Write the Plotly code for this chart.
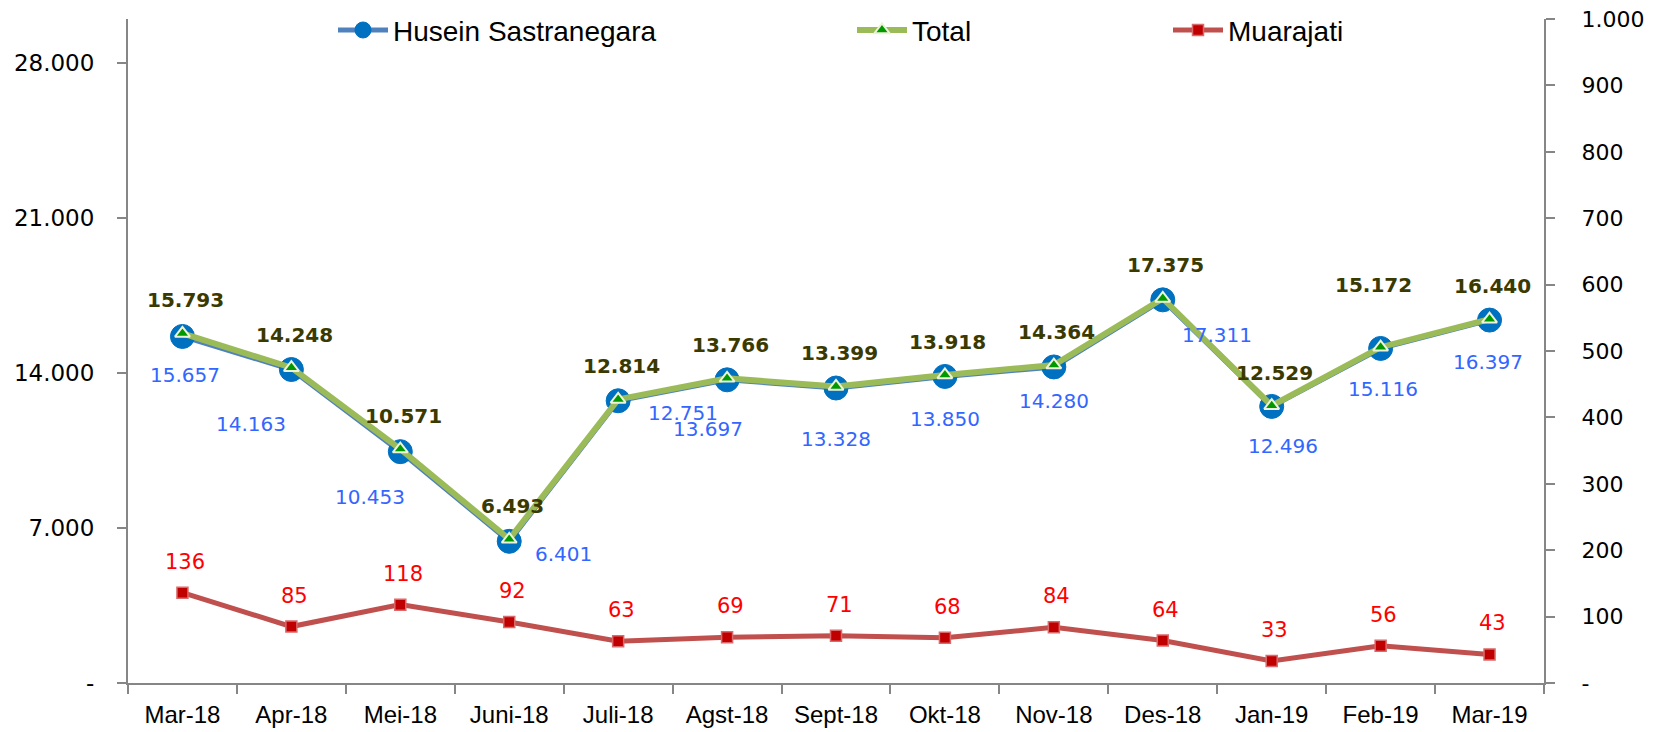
import plotly.graph_objects as go

# ---- data ----
categories = ["Mar-18", "Apr-18", "Mei-18", "Juni-18", "Juli-18", "Agst-18", "Sept-18",
              "Okt-18", "Nov-18", "Des-18", "Jan-19", "Feb-19", "Mar-19"]
husein = [15657, 14163, 10453, 6401, 12751, 13697, 13328, 13850, 14280, 17311, 12496, 15116, 16397]
total = [15793, 14248, 10571, 6493, 12814, 13766, 13399, 13918, 14364, 17375, 12529, 15172, 16440]
muarajati = [136, 85, 118, 92, 63, 69, 71, 68, 84, 64, 33, 56, 43]

left_ticks = [0, 7000, 14000, 21000, 28000]
right_ticks = [0, 100, 200, 300, 400, 500, 600, 700, 800, 900, 1000]

# ---- label placement (pixel offsets, style only) ----
husein_label_dx = [3, -40, -30, 54, 65, -19, 0, 0, 0, 54, 11, 2, -2]
husein_label_dy = [39, 54, 45, 13, 12, 49, 51, 43, 34, 35, 40, 41, 42]
total_label_dx = [3] * 13
total_label_dy = [-33] * 13
total_label_dx[11] = -7
total_label_dy[11] = -62


def fmt(v):
    if v == 0:
        return "-"
    return f"{v:,}".replace(",", ".")


NUM_FONT = "DejaVu Sans, Verdana, sans-serif"
TXT_FONT = "Liberation Sans, Arial, sans-serif"
AXIS_COLOR = "#868686"

fig = go.Figure()

fig.add_trace(go.Scatter(
    x=categories, y=husein, name="Husein Sastranegara", mode="lines+markers",
    line=dict(color="#4F81BD", width=5),
    marker=dict(symbol="circle", size=24, color="#0070C0", line=dict(color="#0070C0", width=1)),
    legend="legend",
))
fig.add_trace(go.Scatter(
    x=categories, y=total, name="Total", mode="lines+markers",
    line=dict(color="#9BBB59", width=6),
    marker=dict(symbol="triangle-up", size=13, color="#009A00", line=dict(color="#EEF3D8", width=2)),
    legend="legend2",
))
fig.add_trace(go.Scatter(
    x=categories, y=muarajati, name="Muarajati", mode="lines+markers", yaxis="y2",
    line=dict(color="#C0504D", width=5),
    marker=dict(symbol="square", size=11, color="#C00000", line=dict(color="#D9696A", width=1.5)),
    legend="legend3",
))

annotations = []
for i, c in enumerate(categories):
    annotations.append(dict(
        x=c, y=total[i], xref="x", yref="y", text=f"<b>{fmt(total[i])}</b>", showarrow=False,
        xshift=total_label_dx[i], yshift=-total_label_dy[i],
        font=dict(family=NUM_FONT, size=20, color="#3A3A00"),
    ))
    annotations.append(dict(
        x=c, y=husein[i], xref="x", yref="y", text=fmt(husein[i]), showarrow=False,
        xshift=husein_label_dx[i], yshift=-husein_label_dy[i],
        font=dict(family=NUM_FONT, size=20, color="#3366FF"),
    ))
    annotations.append(dict(
        x=c, y=muarajati[i], xref="x", yref="y2", text=fmt(muarajati[i]), showarrow=False,
        xshift=3, yshift=31,
        font=dict(family=NUM_FONT, size=21, color="#FF0000"),
    ))

legend_common = dict(orientation="h", xref="paper", yref="paper", yanchor="middle", y=0.983,
                     xanchor="left", bgcolor="rgba(0,0,0,0)",
                     font=dict(family=TXT_FONT, size=28, color="#000000"),
                     itemwidth=50)

fig.update_layout(
    width=1653, height=724,
    margin=dict(l=120, r=117, t=11, b=49, autoexpand=False),
    paper_bgcolor="white", plot_bgcolor="white",
    showlegend=True,
    legend=dict(legend_common, x=(333 - 128) / 1416),
    legend2=dict(legend_common, x=(852 - 128) / 1416),
    legend3=dict(legend_common, x=(1168 - 128) / 1416),
    annotations=annotations,
    xaxis=dict(
        type="category", range=[-0.5, 12.5], tickson="boundaries", ticks="outside", ticklen=9,
        tickwidth=2, tickcolor=AXIS_COLOR, showline=True, linecolor=AXIS_COLOR, linewidth=2,
        showgrid=False, zeroline=False, ticklabelstandoff=9, automargin=False,
        ticklabeloverflow="allow",
        tickfont=dict(family=TXT_FONT, size=24, color="#000000"),
    ),
    yaxis=dict(
        range=[0, 30000], tickvals=left_ticks, ticktext=[fmt(v) for v in left_ticks],
        ticks="outside", ticklen=9, tickwidth=2, tickcolor=AXIS_COLOR, showline=True,
        linecolor=AXIS_COLOR, linewidth=2, showgrid=False, zeroline=False, automargin=False,
        ticklabeloverflow="allow",
        ticklabelstandoff=18, tickfont=dict(family=NUM_FONT, size=23, color="#000000"),
    ),
    yaxis2=dict(
        range=[0, 1000], overlaying="y", side="right", tickvals=right_ticks,
        ticktext=[fmt(v) for v in right_ticks], ticks="outside", ticklen=9, tickwidth=2,
        tickcolor=AXIS_COLOR, showline=True, linecolor=AXIS_COLOR, linewidth=2,
        showgrid=False, zeroline=False, ticklabelstandoff=22, automargin=False,
        ticklabeloverflow="allow",
        tickfont=dict(family=NUM_FONT, size=22, color="#000000"),
    ),
)

fig.write_html("out.html")
